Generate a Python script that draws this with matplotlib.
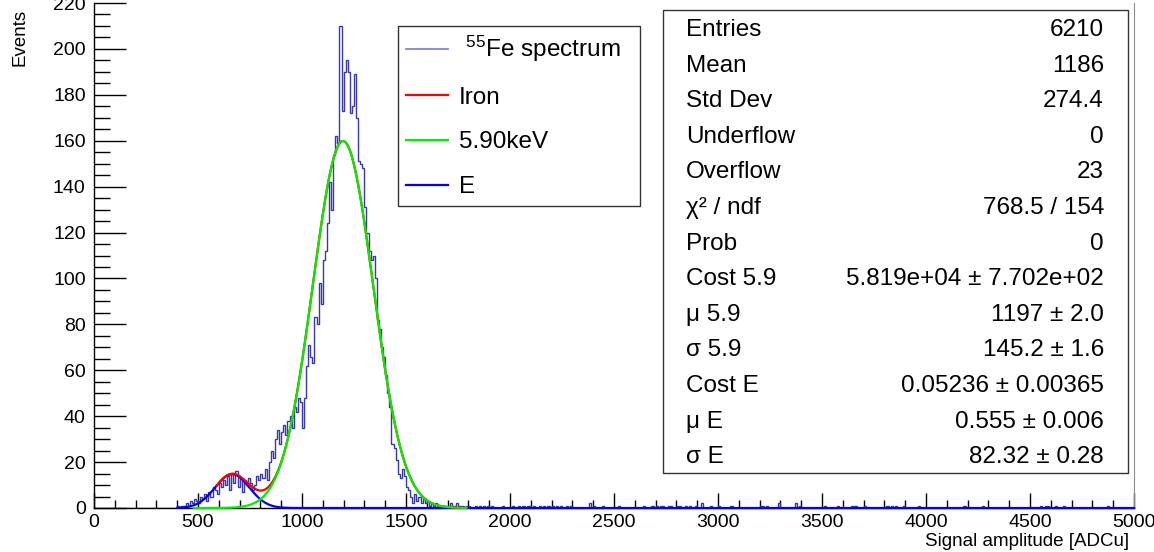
import numpy as np
import matplotlib
matplotlib.use('Agg')
import matplotlib.pyplot as plt
from matplotlib.lines import Line2D
from matplotlib.patches import Rectangle

plt.rcParams['font.family'] = ['Liberation Sans', 'DejaVu Sans']
plt.rcParams['mathtext.fontset'] = 'custom'
plt.rcParams['mathtext.rm'] = 'Liberation Sans'

# histogram: 10 ADCu bins, counts for 400..1790
bin_width = 10
core_start = 400
core_counts = [
    1, 0, 1, 1, 2, 1, 3, 2, 4, 3,
    2, 5, 4, 6, 3, 7, 5, 9, 8, 6,
    11, 9, 12, 10, 14, 8, 15, 11, 16, 9,
    13, 7, 12, 10, 13, 11, 8, 10, 14, 12,
    15, 13, 17, 12, 20, 25, 22, 30, 34, 28,
    33, 36, 32, 38, 40, 35, 44, 42, 48, 46,
    35, 48, 62, 71, 66, 63, 83, 80, 98, 89,
    108, 112, 124, 142, 130, 154, 162, 159, 210, 173,
    190, 195, 190, 172, 175, 189, 170, 151, 150, 148,
    131, 120, 112, 108, 110, 100, 82, 78, 70, 66,
    58, 50, 44, 28, 26, 21, 15, 13, 17, 14,
    9, 8, 5, 2, 6, 3, 5, 2, 4, 2,
    3, 1, 2, 1, 2, 1, 0, 1, 1, 0,
    1, 2, 1, 1, 2, 1, 1, 1, 0, 1,
]
# single events scattered in the high tail
tail_hits = [1808, 1832, 1856, 1872, 1896, 1912, 1968, 2016, 2048, 2064, 2080,
             2096, 2112, 2144, 2168, 2184, 2208, 2224, 2248, 2272, 2296, 2385,
             2385, 2401, 2441, 2521, 2641, 2689, 2705, 2721, 2737, 2761, 2777,
             2801, 2817, 2841, 2865, 2897, 2921, 2921, 2962, 3002, 3066, 3202,
             3218, 3234, 3298, 3298, 3370, 3370, 3399, 3514, 3578, 3643, 3655,
             3667, 3707, 3811, 3831, 3851, 3891, 3963, 4187, 4276, 4556, 4572,
             4588, 4628, 4668, 4877]

# fit results shown in the stats box
cost_59, mu_59, sigma_59 = 5.819e4, 1197.0, 145.2
cost_E, mu_E, sigma_E = 0.05236, 0.555, 82.32

stat_labels = ['Entries', 'Mean', 'Std Dev', 'Underflow', 'Overflow',
               'χ² / ndf', 'Prob', 'Cost 5.9', 'μ 5.9', 'σ 5.9',
               'Cost E', 'μ E', 'σ E']
stat_values = ['6210', '1186', '274.4', '0', '23', '768.5 / 154', '0',
               '5.819e+04 ± 7.702e+02', '1197 ± 2.0', '145.2 ± 1.6',
               '0.05236 ± 0.00365', '0.555 ± 0.006', '82.32 ± 0.28']

# build the full 500-bin histogram
edges = np.arange(0, 5000 + bin_width, bin_width)
counts, _ = np.histogram(tail_hits, bins=edges)
counts = counts.astype(float)
i0 = core_start // bin_width
counts[i0:i0 + len(core_counts)] += core_counts


def gaus_59(x):
    return cost_59 / (np.sqrt(2 * np.pi) * sigma_59) * np.exp(-0.5 * ((x - mu_59) / sigma_59) ** 2)


def gaus_E(x):
    return cost_E * cost_59 / (np.sqrt(2 * np.pi) * sigma_E) * np.exp(-0.5 * ((x - mu_E * mu_59) / sigma_E) ** 2)


W, H = 1154, 552
fig = plt.figure(figsize=(W / 100, H / 100), dpi=100)
ax = fig.add_axes([94 / W, 44 / H, 1040 / W, 505 / H])

hist_col = '#3838b0'
ax.stairs(counts, edges, color=hist_col, linewidth=1.0, zorder=2)

x_e = np.linspace(400, 5000, 3000)
x_g = np.linspace(480, 1790, 1500)
x_r = np.linspace(590, 1790, 1500)
ax.plot(x_e, gaus_E(x_e), color='#0000ff', lw=1.6, zorder=3, clip_on=False)
ax.plot(x_r, gaus_59(x_r) + gaus_E(x_r), color='#ff0000', lw=1.6, zorder=3, clip_on=False)
ax.plot(x_g, gaus_59(x_g), color='#00ee00', lw=1.6, zorder=3, clip_on=False)

ax.set_xlim(0, 5000)
ax.set_ylim(0, 220)
ax.set_xticks(np.arange(0, 5001, 500))
ax.set_xticks(np.arange(0, 5001, 100), minor=True)
ax.set_yticks(np.arange(0, 221, 20))
ax.set_yticks(np.arange(0, 221, 5), minor=True)
ax.tick_params(axis='x', which='major', direction='in', length=11, width=1, labelsize=14, pad=4)
ax.tick_params(axis='x', which='minor', direction='in', length=5.5, width=1)
ax.tick_params(axis='y', which='major', direction='in', length=23, width=1, labelsize=14, pad=6)
ax.tick_params(axis='y', which='minor', direction='in', length=11.5, width=1)
ax.spines['top'].set_visible(False)
ax.spines['right'].set_color('0.55')
for s in ['left', 'bottom']:
    ax.spines[s].set_linewidth(1)

fig.text(20 / W, 1 - 9 / H, 'Events', rotation=90, ha='center', va='top', fontsize=13.5)
fig.text(1129 / W, 1 - 541 / H, 'Signal amplitude [ADCu]', ha='right', va='center', fontsize=13.5)

# legend
handles = [Line2D([], [], color='#7878d0', lw=1.2),
           Line2D([], [], color='#ff0000', lw=1.6),
           Line2D([], [], color='#00ee00', lw=1.6),
           Line2D([], [], color='#0000ff', lw=1.6)]
labels = [r' $\mathregular{^{55}}$Fe spectrum', 'Iron', '5.90keV', 'E']
leg = fig.legend(handles, labels, loc='upper left', mode='expand',
                 bbox_to_anchor=(398 / W, 1 - 208 / H, 242 / W, 182 / H),
                 fontsize=17.5, frameon=True, fancybox=False, framealpha=1,
                 edgecolor='#333333', borderpad=0.33, labelspacing=0.93,
                 handlelength=1.73, handletextpad=0.45, borderaxespad=0)
leg.get_frame().set_linewidth(1)

# stats box
fig.patches.append(Rectangle((663 / W, 1 - 473 / H), 465 / W, 463 / H,
                             transform=fig.transFigure, facecolor='white',
                             edgecolor='#333333', linewidth=1, zorder=5))
for k, (lab, val) in enumerate(zip(stat_labels, stat_values)):
    yc = 1 - (30 + 35.6 * k) / H
    fig.text(686 / W, yc, lab, ha='left', va='center', fontsize=17.5, zorder=6)
    fig.text(1104 / W, yc, val, ha='right', va='center', fontsize=17.5, zorder=6)

fig.savefig('out.png', dpi=100, facecolor='white')
